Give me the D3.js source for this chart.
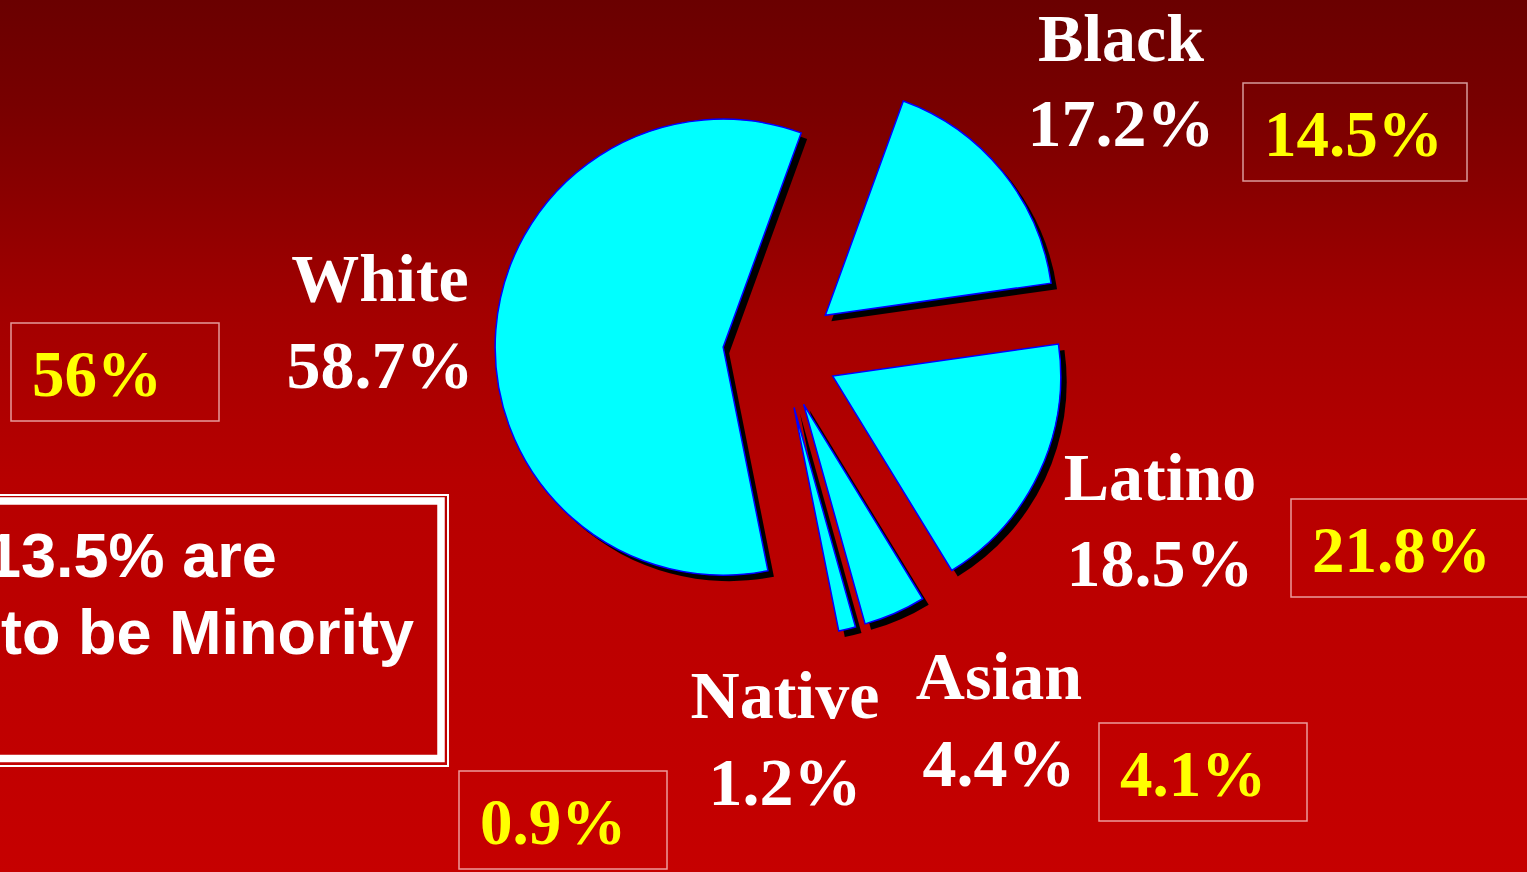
<!DOCTYPE html>
<html>
<head>
<meta charset="utf-8">
<script src="https://cdn.jsdelivr.net/npm/d3@7"></script>
<style>
  html, body { margin: 0; padding: 0; overflow: hidden; background: #a00000; }
  svg { display: block; }
</style>
</head>
<body>
<svg id="chart" width="1527" height="872"></svg>
<script>
// ---- data ----
const categories = ["Black", "Latino", "Asian", "Native", "White"];
const currentShares = [17.2, 18.5, 4.4, 1.2, 58.7];
const currentLabels = ["17.2%", "18.5%", "4.4%", "1.2%", "58.7%"];
const projectedLabels = ["14.5%", "21.8%", "4.1%", "0.9%", "56%"];
const noteLines = ["13.5% are", "to be Minority"];

// ---- layout (not data) ----
const W = 1527, H = 872;
const center = [780.6, 351.5];
const radius = 228;
const explode = 57.6;
const startDeg = 20;
const labelLayout = {
  Black:  { x: 1121, y1: 61,  y2: 146 },
  Latino: { x: 1160, y1: 500, y2: 586 },
  Asian:  { x: 999,  y1: 699, y2: 786 },
  Native: { x: 785,  y1: 718, y2: 805 },
  White:  { x: 380,  y1: 301, y2: 388 }
};
const boxLayout = {
  Black:  { x: 1243, y: 83,  w: 224, h: 98 },
  Latino: { x: 1291, y: 499, w: 250, h: 98 },
  Asian:  { x: 1099, y: 723, w: 208, h: 98 },
  Native: { x: 459,  y: 771, w: 208, h: 98 },
  White:  { x: 11,   y: 323, w: 208, h: 98 }
};

const svg = d3.select("#chart");
const defs = svg.append("defs");
const grad = defs.append("linearGradient").attr("id", "bg")
  .attr("x1", 0).attr("y1", 0).attr("x2", 0).attr("y2", 1);
[[0, "#6a0000"], [0.12, "#780000"], [0.36, "#a30000"], [0.55, "#b70000"], [0.9, "#c20000"], [1, "#c60000"]]
  .forEach(([o, c]) => grad.append("stop").attr("offset", o).attr("stop-color", c));

svg.append("rect").attr("width", W).attr("height", H).attr("fill", "url(#bg)");

// ---- pie ----
const rad = d => d * Math.PI / 180;
const pie = d3.pie().sort(null).value(d => d.v)
  .startAngle(rad(startDeg)).endAngle(rad(startDeg) + 2 * Math.PI);
const arcs = pie(categories.map((c, i) => ({ c, v: currentShares[i] })));
const arc = d3.arc().innerRadius(0).outerRadius(radius);

const g = svg.append("g").attr("transform", `translate(${center[0]},${center[1]})`);
const offset = d => {
  const a = (d.startAngle + d.endAngle) / 2;
  return [Math.sin(a) * explode, -Math.cos(a) * explode];
};

// shadows
g.selectAll("path.shadow").data(arcs).enter().append("path")
  .attr("class", "shadow")
  .attr("d", arc)
  .attr("fill", "#000")
  .attr("transform", d => { const o = offset(d); return `translate(${o[0] + 6},${o[1] + 6})`; });

// slices
g.selectAll("path.slice").data(arcs).enter().append("path")
  .attr("class", "slice")
  .attr("d", arc)
  .attr("fill", "#00ffff")
  .attr("stroke", "#0000ff")
  .attr("stroke-width", 1.5)
  .attr("stroke-linejoin", "miter")
  .attr("transform", d => { const o = offset(d); return `translate(${o[0]},${o[1]})`; });

// ---- category labels ----
const serif = "'Liberation Serif', 'Times New Roman', Times, serif";
categories.forEach((c, i) => {
  const L = labelLayout[c];
  svg.append("text").attr("x", L.x).attr("y", L.y1)
    .attr("text-anchor", "middle").attr("font-family", serif)
    .attr("font-weight", "bold").attr("font-size", 68).attr("fill", "#ffffff")
    .text(c);
  svg.append("text").attr("x", L.x).attr("y", L.y2)
    .attr("text-anchor", "middle").attr("font-family", serif)
    .attr("font-weight", "bold").attr("font-size", 68).attr("fill", "#ffffff")
    .text(currentLabels[i]);
});

// ---- projected value boxes ----
categories.forEach((c, i) => {
  const B = boxLayout[c];
  svg.append("rect").attr("x", B.x).attr("y", B.y).attr("width", B.w).attr("height", B.h)
    .attr("fill", "none").attr("stroke", "rgba(255,220,220,0.7)").attr("stroke-width", 1.5);
  svg.append("text").attr("x", B.x + 21).attr("y", B.y + 73)
    .attr("font-family", serif).attr("font-weight", "bold")
    .attr("font-size", 65).attr("fill", "#ffff00")
    .text(projectedLabels[i]);
});

// ---- note box ----
svg.append("rect").attr("x", -20).attr("y", 495).attr("width", 468).attr("height", 271)
  .attr("fill", "none").attr("stroke", "#ffffff").attr("stroke-width", 2);
svg.append("rect").attr("x", -20).attr("y", 501).attr("width", 461).attr("height", 257.5)
  .attr("fill", "none").attr("stroke", "#ffffff").attr("stroke-width", 7.5);
const sans = "'Liberation Sans', Arial, Helvetica, sans-serif";
const noteX = [-14, 1];
const noteY = [577, 654];
noteLines.forEach((t, i) => {
  svg.append("text").attr("x", noteX[i]).attr("y", noteY[i])
    .attr("font-family", sans).attr("font-weight", "bold")
    .attr("font-size", 63).attr("fill", "#ffffff").text(t);
});
</script>
</body>
</html>
